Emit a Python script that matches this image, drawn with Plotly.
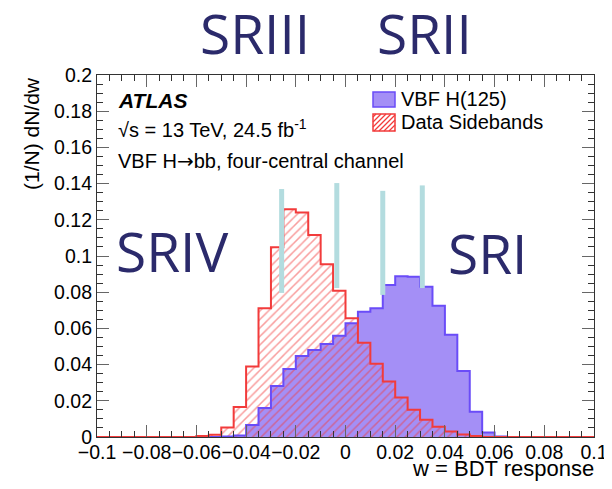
import plotly.graph_objects as go

# ---------------- data ----------------
bin_width = 0.005
x_min = -0.1
n_bins = 40
# VBF H(125) signal, per bin starting at -0.1
vbf_signal = [0, 0, 0, 0, 0, 0, 0, 0, 0, 0,
              0.0003, 0.0008, 0.0066, 0.0160, 0.0282, 0.0376, 0.0448, 0.0481, 0.0514, 0.0560,
              0.0628, 0.0692, 0.0711, 0.0840, 0.0888, 0.0886, 0.0830, 0.0725, 0.0565, 0.0365,
              0.0140, 0.0025, 0.0003, 0, 0, 0, 0, 0, 0, 0]
# Data sidebands, per bin starting at -0.1
data_sidebands = [0, 0, 0, 0, 0, 0, 0, 0, 0.0005, 0.0012,
                  0.0052, 0.0166, 0.0389, 0.0711, 0.1048, 0.1258, 0.1241, 0.1116, 0.0954, 0.0808,
                  0.0656, 0.0521, 0.0405, 0.0306, 0.0218, 0.0151, 0.0095, 0.0057, 0.0030, 0.0014,
                  0.0005, 0, 0, 0, 0, 0, 0, 0, 0, 0]
# region-boundary markers (x, y_low, y_high)
sr_marker_x = [-0.0257, -0.0035, 0.0150, 0.0309]
sr_marker_ylo = [0.0796, 0.0823, 0.0785, 0.0823]
sr_marker_yhi = [0.1370, 0.1403, 0.1360, 0.1390]
sr_labels = ["SRIII", "SRII", "SRIV", "SRI"]

edges = [x_min + bin_width * i for i in range(n_bins + 1)]

def step_y(vals):
    return list(vals) + [vals[-1]]

# page coordinates of the plot area; the page body has an 8px margin
OFF = 8
W, H = 612 - OFF, 489 - OFF
L, R, T, B = 97 - OFF, 18, 75 - OFF, 52
PW, PH = W - L - R, H - T - B

def xp(px):
    return (px - OFF - L) / PW

def yp(py):
    return (H - B - (py - OFF)) / PH

BLUE_FILL = "#a48ff6"
BLUE_LINE = "#6a4cf8"
RED = "#f23b3b"
NAVY = "#2b2a6b"
FONT = "Liberation Sans, Arial, Helvetica, sans-serif"

fig = go.Figure()
fig.add_trace(go.Scatter(x=edges, y=step_y(vbf_signal), mode="lines", line_shape="hv",
                         fill="tozeroy", fillcolor=BLUE_FILL, line=dict(width=0),
                         hoverinfo="skip", showlegend=False))
fig.add_trace(go.Scatter(x=edges, y=step_y(data_sidebands), mode="lines", line_shape="hv",
                         fill="tozeroy", fillcolor="rgba(0,0,0,0)",
                         fillpattern=dict(shape="/", fgcolor=RED, bgcolor="rgba(0,0,0,0)",
                                          size=6, solidity=0.25),
                         line=dict(width=0), hoverinfo="skip", showlegend=False))
fig.add_trace(go.Scatter(x=edges, y=step_y(vbf_signal), mode="lines", line_shape="hv",
                         line=dict(color=BLUE_LINE, width=2), showlegend=False))
fig.add_trace(go.Scatter(x=edges, y=step_y(data_sidebands), mode="lines", line_shape="hv",
                         line=dict(color=RED, width=2), showlegend=False))

shapes = []
for x, y0, y1 in zip(sr_marker_x, sr_marker_ylo, sr_marker_yhi):
    shapes.append(dict(type="line", xref="x", yref="y", x0=x, x1=x, y0=y0, y1=y1,
                       line=dict(color="#b3dcdf", width=5), layer="above"))

# legend swatches (manual)
bx0, bx1 = 373, 395
shapes.append(dict(type="rect", xref="paper", yref="paper",
                   x0=xp(bx0), x1=xp(bx1), y0=yp(107), y1=yp(92),
                   fillcolor=BLUE_FILL, line=dict(color=BLUE_LINE, width=1.5)))
ry0, ry1 = 114, 131
c = bx0 + ry0 + 3
while c < bx1 + ry1:
    xa = max(bx0, c - ry1)
    xb = min(bx1, c - ry0)
    if xb > xa:
        shapes.append(dict(type="line", xref="paper", yref="paper",
                           x0=xp(xa), y0=yp(c - xa), x1=xp(xb), y1=yp(c - xb),
                           line=dict(color=RED, width=1.2)))
    c += 5
shapes.append(dict(type="rect", xref="paper", yref="paper",
                   x0=xp(bx0), x1=xp(bx1), y0=yp(ry1), y1=yp(ry0),
                   fillcolor="rgba(0,0,0,0)", line=dict(color=RED, width=1.5)))

ann = []
txt = dict(family=FONT, size=20, color="black")
ann.append(dict(text="<b><i>ATLAS</i></b>", x=xp(116), y=yp(100), xanchor="left", yanchor="middle",
                font=dict(family=FONT, size=21, color="black")))
ann.append(dict(text="√s = 13 TeV, 24.5 fb<sup>-1</sup>", x=xp(116), y=yp(129), xanchor="left",
                yanchor="middle", font=txt))
ann.append(dict(text='VBF H<span style="font-family:DejaVu Sans">→</span>bb, four-central channel',
                x=xp(116), y=yp(161), xanchor="left", yanchor="middle", font=txt))
ann.append(dict(text="VBF H(125)", x=xp(399), y=yp(99), xanchor="left", yanchor="middle", font=txt))
ann.append(dict(text="Data Sidebands", x=xp(399), y=yp(122), xanchor="left", yanchor="middle", font=txt))
ann.append(dict(text="(1/N) dN/dw", x=xp(31), y=yp(134), xanchor="center", yanchor="middle",
                textangle=-90, font=dict(family=FONT, size=21, color="black")))
ann.append(dict(text="w = BDT response", x=xp(596), y=yp(468), xanchor="right", yanchor="middle",
                font=dict(family=FONT, size=22, color="black")))

sr_pos = [(255, 34), (424, 34), (172, 252), (487, 254)]
for lab, (px, py) in zip(sr_labels, sr_pos):
    ann.append(dict(text=lab, x=xp(px), y=yp(py - 2), xanchor="center", yanchor="middle",
                    font=dict(family="Open Sans, Noto Sans, sans-serif", size=55, color=NAVY)))
for a in ann:
    a.update(xref="paper", yref="paper", showarrow=False)

axis_common = dict(showline=True, linecolor="#333", linewidth=1.2, mirror="allticks",
                   ticks="inside", ticklen=12, tickcolor="#666", tickwidth=1,
                   showgrid=False, zeroline=False, automargin=False,
                   minor=dict(dtick=0.005, ticks="inside", ticklen=6, tickcolor="#333",
                              showgrid=False),
                   tickfont=dict(family=FONT, size=19.5, color="black"))

fig.update_layout(
    width=W, height=H, margin=dict(l=L, r=R, t=T, b=B, autoexpand=False),
    paper_bgcolor="white", plot_bgcolor="white",
    xaxis=dict(range=[-0.1, 0.1], dtick=0.02, tick0=0, tickangle=0, ticklabelstandoff=-3,
               **axis_common),
    yaxis=dict(range=[0, 0.2], dtick=0.02, tick0=0, **axis_common),
    shapes=shapes, annotations=ann, showlegend=False,
)
fig.write_html("out.html")
